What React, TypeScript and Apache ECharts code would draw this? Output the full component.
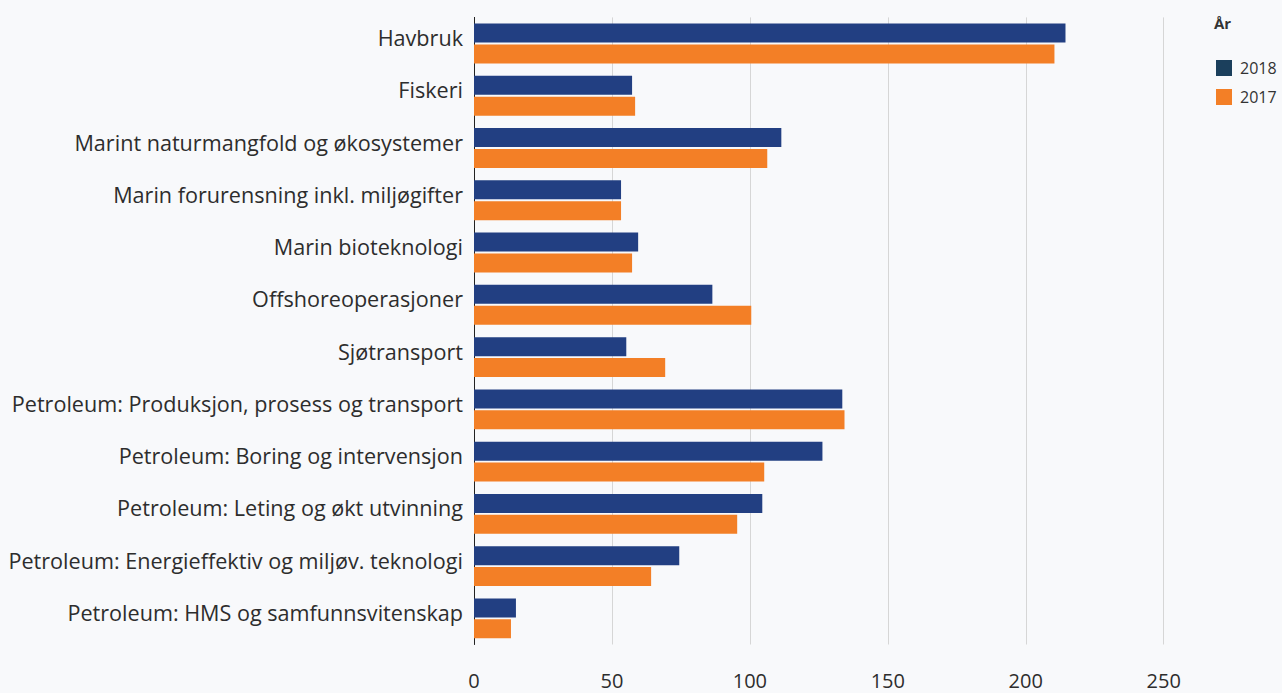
import React, { useEffect, useRef } from "react";
import * as echarts from "echarts";

const categories = [
  "Havbruk",
  "Fiskeri",
  "Marint naturmangfold og økosystemer",
  "Marin forurensning inkl. miljøgifter",
  "Marin bioteknologi",
  "Offshoreoperasjoner",
  "Sjøtransport",
  "Petroleum: Produksjon, prosess og transport",
  "Petroleum: Boring og intervensjon",
  "Petroleum: Leting og økt utvinning",
  "Petroleum: Energieffektiv og miljøv. teknologi",
  "Petroleum: HMS og samfunnsvitenskap",
];

const values2018 = [214.4, 57.3, 111.4, 53.3, 59.5, 86.4, 55.2, 133.5, 126.3, 104.5, 74.4, 15.2];
const values2017 = [210.4, 58.4, 106.3, 53.3, 57.3, 100.5, 69.3, 134.3, 105.2, 95.4, 64.2, 13.4];

const xTicks = [0, 50, 100, 150, 200, 250];

const FONT = "'Open Sans'";

export default function App() {
  const ref = useRef<HTMLDivElement>(null);

  useEffect(() => {
    if (!ref.current) return;
    const chart = echarts.init(ref.current, undefined, { renderer: "svg" });
    chart.setOption({
      animation: false,
      backgroundColor: "#f8f9fb",
      textStyle: { fontFamily: FONT },
      grid: { left: 474, right: 118.3, top: 17.4, bottom: 48.5, containLabel: false },
      legend: {
        orient: "vertical",
        left: 1211,
        top: 55,
        itemWidth: 16,
        itemHeight: 16,
        itemGap: 13,
        icon: "rect",
        textStyle: { fontFamily: FONT, fontSize: 16, color: "#333", padding: [0, 0, 0, 3] },
        data: [
          { name: "2018", itemStyle: { color: "#1b3f5c" } },
          { name: "2017", itemStyle: { color: "#f37f26" } },
        ],
      },
      graphic: [
        {
          type: "text",
          left: 1214,
          top: 15,
          style: { text: "År", font: `bold 15px ${FONT}`, fill: "#333" },
        },
      ],
      xAxis: {
        type: "value",
        min: xTicks[0],
        max: xTicks[xTicks.length - 1],
        interval: 50,
        axisLine: { show: false },
        axisTick: { show: false },
        splitLine: { show: true, lineStyle: { color: "#d6d6d6", width: 1 } },
        axisLabel: { fontFamily: FONT, fontSize: 20, color: "#2d2d2d", margin: 26 },
      },
      yAxis: {
        type: "category",
        data: categories,
        inverse: true,
        axisLine: { show: true, lineStyle: { color: "#222", width: 1 } },
        axisTick: { show: false },
        axisLabel: {
          fontFamily: FONT,
          fontSize: 21.6,
          color: "#2d2d2d",
          margin: 11,
          verticalAlign: "bottom",
          lineHeight: 12,
        },
      },
      series: [
        {
          name: "2018",
          type: "bar",
          data: values2018,
          barWidth: 19,
          barGap: "10%",
          itemStyle: { color: "#223f82" },
        },
        {
          name: "2017",
          type: "bar",
          data: values2017,
          barWidth: 19,
          barGap: "10%",
          itemStyle: { color: "#f37f26" },
        },
      ],
    });
    return () => chart.dispose();
  }, []);

  return (
    <div
      ref={ref}
      style={{ position: "fixed", left: 0, top: 0, width: 1282, height: 693 }}
    />
  );
}
